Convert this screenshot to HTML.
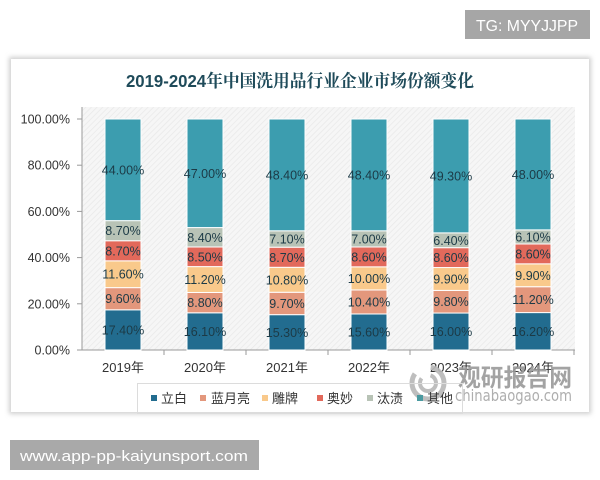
<!DOCTYPE html>
<html><head><meta charset="utf-8"><style>
html,body{margin:0;padding:0;background:#fff;}
svg{display:block;}
text{font-family:"Liberation Sans","Noto Sans CJK SC",sans-serif;}
</style></head><body>
<svg width="600" height="480" viewBox="0 0 600 480" xmlns="http://www.w3.org/2000/svg">
<defs>
<pattern id="hatch" width="4" height="4" patternUnits="userSpaceOnUse" patternTransform="rotate(45)">
<rect width="4" height="4" fill="#f6f6f6"/>
<line x1="0" y1="0" x2="0" y2="4" stroke="#e9e9e9" stroke-width="1.5"/>
</pattern>
<filter id="sh" x="-5%" y="-5%" width="110%" height="110%"><feGaussianBlur stdDeviation="2.5"/></filter>
</defs>
<!-- TG box -->
<rect x="465" y="10" width="125" height="29" fill="#a6a6a6"/>
<text x="476" y="31" font-size="16" fill="#fff" textLength="102" lengthAdjust="spacingAndGlyphs">TG: MYYJJPP</text>
<!-- card -->
<rect x="9" y="57" width="582" height="357" fill="#cfcfcf" filter="url(#sh)"/>
<rect x="11" y="59" width="578" height="353" fill="#fff"/>
<!-- title -->
<text x="300" y="87" font-size="17.5" font-weight="bold" fill="#1f4b5a" text-anchor="middle" style='font-family:"Liberation Sans","Noto Serif CJK SC",serif' textLength="348" lengthAdjust="spacingAndGlyphs">2019-2024年中国洗用品行业企业市场份额变化</text>
<!-- plot area -->
<rect x="82" y="107" width="493" height="243" fill="url(#hatch)"/>
<!-- axes -->
<line x1="82" y1="107" x2="82" y2="350" stroke="#9a9a9a" stroke-width="1"/>
<line x1="82" y1="350" x2="575" y2="350" stroke="#9a9a9a" stroke-width="1"/>
<g stroke="#9a9a9a" stroke-width="1">
<line x1="77" y1="119" x2="82" y2="119"/><line x1="77" y1="165.2" x2="82" y2="165.2"/>
<line x1="77" y1="211.4" x2="82" y2="211.4"/><line x1="77" y1="257.6" x2="82" y2="257.6"/>
<line x1="77" y1="303.8" x2="82" y2="303.8"/><line x1="77" y1="350" x2="82" y2="350"/>
<line x1="164" y1="350" x2="164" y2="355"/><line x1="246" y1="350" x2="246" y2="355"/>
<line x1="328" y1="350" x2="328" y2="355"/><line x1="410" y1="350" x2="410" y2="355"/>
<line x1="492" y1="350" x2="492" y2="355"/><line x1="574" y1="350" x2="574" y2="355"/>
</g>
<g font-size="12.5" fill="#333" text-anchor="end">
<text x="70" y="123.5">100.00%</text><text x="70" y="169.7">80.00%</text>
<text x="70" y="215.9">60.00%</text><text x="70" y="262.1">40.00%</text>
<text x="70" y="308.3">20.00%</text><text x="70" y="354.5">0.00%</text>
</g>
<g id="bars"></g>
<g font-size="13" fill="#333" text-anchor="middle" style='font-family:"Liberation Sans","Noto Sans CJK SC",sans-serif'>
<text x="123" y="372">2019年</text><text x="205" y="372">2020年</text><text x="287" y="372">2021年</text>
<text x="369" y="372">2022年</text><text x="451" y="372">2023年</text><text x="533" y="372">2024年</text>
</g>
<!-- watermark -->
<g opacity="0.9">
<circle cx="428" cy="383" r="16" fill="none" stroke="#b8b8b8" stroke-width="5" stroke-dasharray="60 18"/>
<circle cx="428" cy="383" r="8" fill="none" stroke="#b8b8b8" stroke-width="4" stroke-dasharray="30 10"/>
<text x="458" y="386" font-size="24" font-weight="bold" fill="#9a9a9a" textLength="114" lengthAdjust="spacingAndGlyphs" style='font-family:"Noto Sans CJK SC",sans-serif'>观研报告网</text>
<text x="455" y="401" font-size="16" fill="#a6a6a6" textLength="117" lengthAdjust="spacingAndGlyphs" style='font-family:"DejaVu Sans",sans-serif'>chinabaogao.com</text>
</g>
<!-- legend -->
<rect x="137.5" y="383.5" width="325" height="30" fill="none" stroke="#dcdcdc" stroke-width="1"/>
<g font-size="13" fill="#333" style='font-family:"Liberation Sans","Noto Sans CJK SC",sans-serif'>
<rect x="151" y="395" width="6" height="6" fill="#226c8f"/><text x="161" y="403">立白</text>
<rect x="200" y="395" width="6" height="6" fill="#e3977c"/><text x="211" y="403">蓝月亮</text>
<rect x="262" y="395" width="6" height="6" fill="#f9c98b"/><text x="272" y="403">雕牌</text>
<rect x="317" y="395" width="6" height="6" fill="#e2695b"/><text x="327" y="403">奥妙</text>
<rect x="367" y="395" width="6" height="6" fill="#b8c3b6"/><text x="377" y="403">汰渍</text>
<rect x="417" y="395" width="6" height="6" fill="#4a9aa0"/><text x="427" y="403">其他</text>
</g>
<!-- bottom box -->
<rect x="10" y="440" width="249" height="30" fill="#a9a9a9"/>
<text x="20" y="461" font-size="15" fill="#fff" textLength="228" lengthAdjust="spacingAndGlyphs">www.app-pp-kaiyunsport.com</text>
</svg>
<script>
(function(){
var data=[[17.4,9.6,11.6,8.7,8.7,44.0],[16.1,8.8,11.2,8.5,8.4,47.0],[15.3,9.7,10.8,8.7,7.1,48.4],[15.6,10.4,10.0,8.6,7.0,48.4],[16.0,9.8,9.9,8.6,6.4,49.3],[16.2,11.2,9.9,8.6,6.1,48.0]];
var cols=["#226c8f","#e3977c","#f9c98b","#e2695b","#b8c3b6","#3c9daf"];
var g=document.getElementById("bars");var s="";
for(var i=0;i<6;i++){var cx=123+82*i;var acc=0;
for(var j=0;j<6;j++){var v=data[i][j];var y0=350-acc*2.31;var y1=350-(acc+v)*2.31;
s+='<rect x="'+(cx-18)+'" y="'+y1.toFixed(2)+'" width="36" height="'+(y0-y1).toFixed(2)+'" fill="'+cols[j]+'" stroke="#fff" stroke-width="1"/>';
acc+=v;}
acc=0;
for(var j=0;j<6;j++){var v=data[i][j];var ym=350-(acc+v/2)*2.31;
s+='<text x="'+cx+'" y="'+(ym+4.5).toFixed(2)+'" font-size="12.5" fill="#1c3a46" text-anchor="middle">'+v.toFixed(2)+'%</text>';
acc+=v;}}
g.innerHTML=s;
})();
</script>
</body></html>
